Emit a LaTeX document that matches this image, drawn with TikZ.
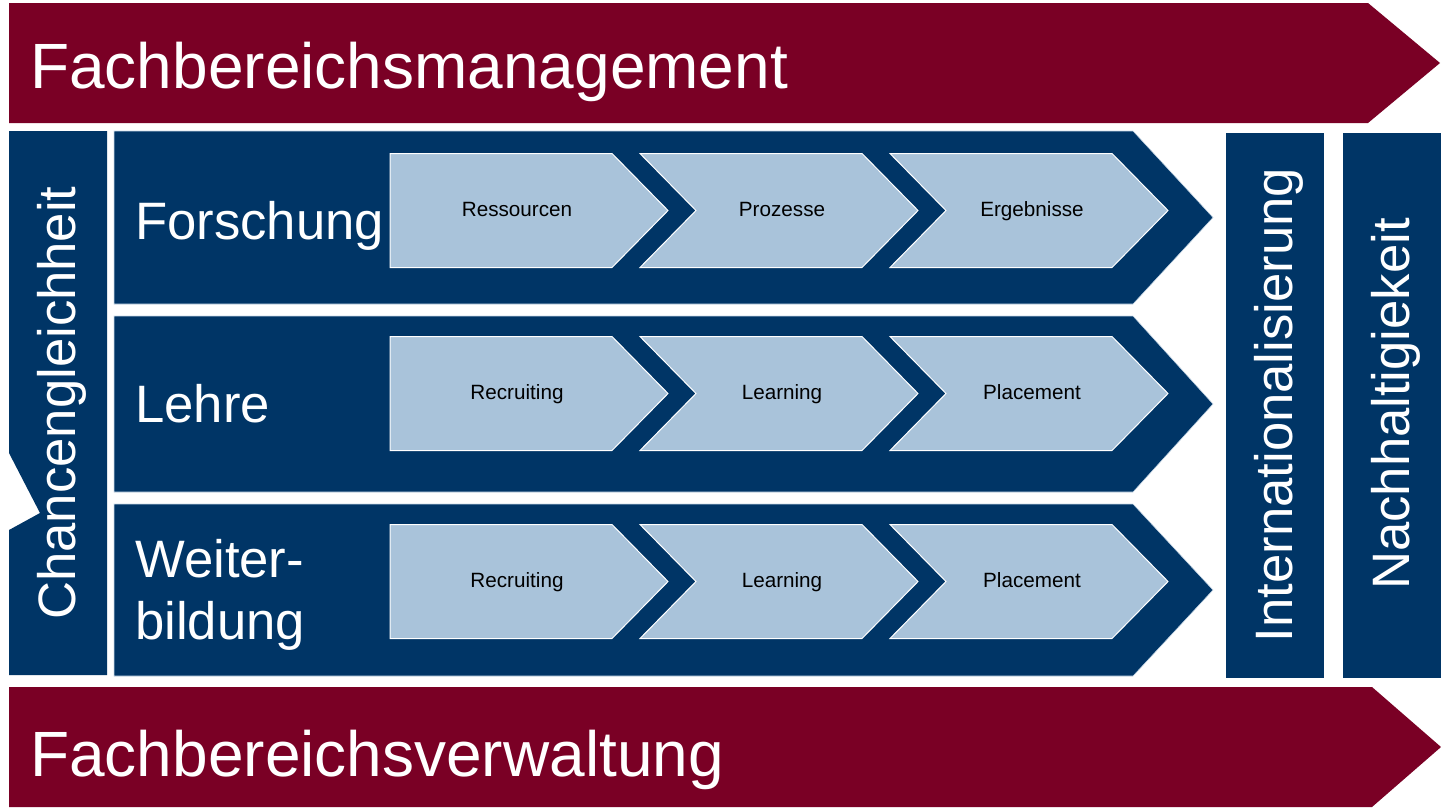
\documentclass[tikz,border=0pt]{standalone}
\usepackage{fontspec}
\setmainfont{Liberation Sans}
\definecolor{fbred}{RGB}{122,0,37}
\definecolor{fbblue}{RGB}{0,53,102}
\definecolor{fblight}{RGB}{169,195,218}
\tikzset{
  rowchev/.style={fill=fbblue,draw=fblight!60,line width=0.4pt},
  stepchev/.style={fill=fblight,draw=white,line width=0.75pt},
  biglabel/.style={text=white,font=\fontsize{48}{56}\selectfont,anchor=base west,inner sep=0pt},
  rowlabel/.style={text=white,font=\fontsize{39.5}{46.5}\selectfont,anchor=west,align=left,inner sep=0pt},
  sidelabel/.style={text=white,font=\fontsize{39.5}{46.5}\selectfont,rotate=90,inner sep=0pt},
  steplabel/.style={text=black,font=\fontsize{15.5}{18}\selectfont,anchor=base,inner sep=0pt}
}
\begin{document}
\begin{tikzpicture}[x=0.75pt,y=-0.75pt]
    \useasboundingbox[fill=white] (0,0) rectangle (1441,807);
    \fill[fbred] (9,3) -- (1368,3) -- (1440,63) -- (1368,123) -- (9,123) -- cycle;
    \node[biglabel] (mgmt) at (30,88) {Fachbereichsmanagement};
    \fill[fbred] (9,687) -- (1372,687) -- (1441,747) -- (1372,807) -- (9,807) -- cycle;
    \node[biglabel] (verw) at (30,776) {Fachbereichsverwaltung};
    \fill[fbblue] (9,131) -- (107,131) -- (107,675) -- (9,675) -- (9,530) -- (40,513) -- (9,453) -- cycle;
    \node[sidelabel] (chanc) at (62,403) {Chancengleichheit};
    \fill[fbblue] (1226,133) rectangle (1324,678);
    \node[sidelabel] (intl) at (1279,405) {Internationalisierung};
    \fill[fbblue] (1343,133) rectangle (1441,678);
    \node[sidelabel] (nachh) at (1396,404) {Nachhaltigiekeit};
    \foreach \r/\t/\b/\dy/\lab in {1/131/304/8/Forschung,2/316/492/0/Lehre,3/504/676/5/{Weiter-\\bildung}} {
      \pgfmathsetmacro{\m}{(\t+\b)/2}
      \draw[rowchev] (114,\t) -- (1133,\t) -- (1213,\m) -- (1133,\b) -- (114,\b) -- cycle;
      \node[rowlabel] (row\r) at (135,\m+\dy) {\lab};
    }
    \foreach \r/\c in {1/210.5,2/393.5,3/581.5} {
      \draw[stepchev] (390,\c-57) -- (612,\c-57) -- (668,\c) -- (612,\c+57) -- (390,\c+57) -- cycle;
      \foreach \x in {640,890}
        \draw[stepchev] (\x,\c-57) -- (\x+222,\c-57) -- (\x+278,\c) -- (\x+222,\c+57) -- (\x,\c+57) -- (\x+56,\c) -- cycle;
    }
    \foreach \r/\c/\ta/\tb/\tc in {1/210.5/Ressourcen/Prozesse/Ergebnisse,2/393.5/Recruiting/Learning/Placement,3/581.5/Recruiting/Learning/Placement} {
      \node[steplabel] (step\r a) at (517,\c+6) {\ta};
      \node[steplabel] (step\r b) at (782,\c+6) {\tb};
      \node[steplabel] (step\r c) at (1032,\c+6) {\tc};
    }
  \end{tikzpicture}
\end{document}
